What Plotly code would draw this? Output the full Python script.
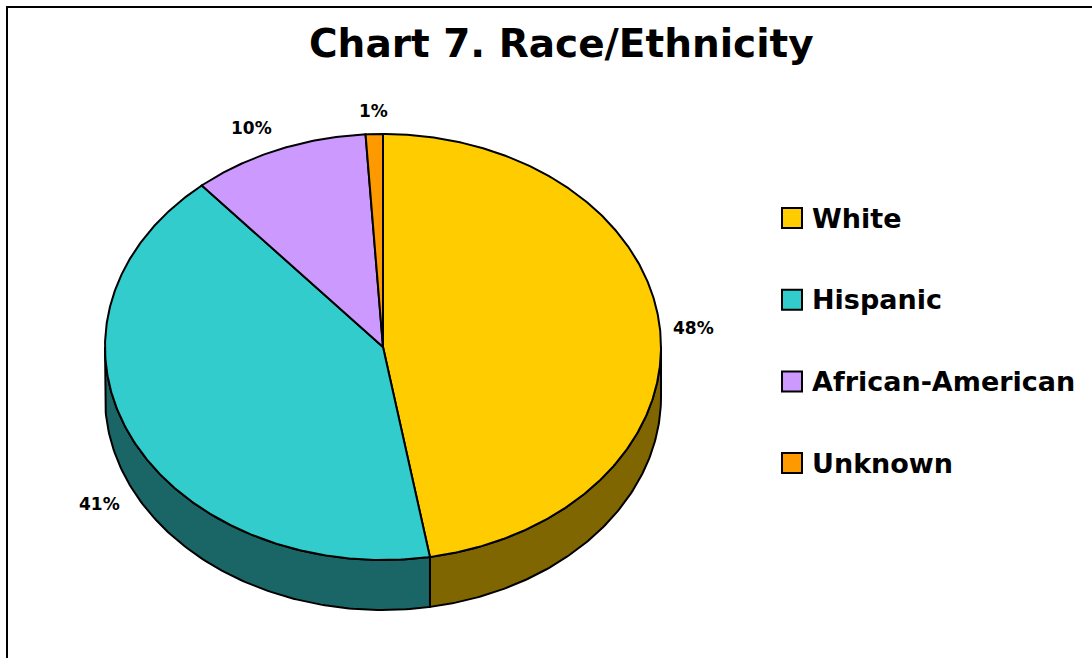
import numpy as np
import plotly.graph_objects as go

# ---- data ----
categories = ["White", "Hispanic", "African-American", "Unknown"]
values = [47.3, 41.4, 10.3, 1.0]
value_labels = ["48%", "41%", "10%", "1%"]
top_colors = ["#FFCC00", "#33CCCC", "#CC99FF", "#FF9900"]
side_colors = ["#806600", "#1A6666", "#664C80", "#804C00"]
title_text = "Chart 7. Race/Ethnicity"

# ---- geometry (pixel space) ----
W, H = 1092, 658
cx, cy = 383, 347
rx, ry = 278, 213
depth = 50
FONT = "DejaVu Sans"
LW = 2.0


def pt(t_deg, dy=0.0):
    t = np.radians(t_deg)
    return cx + rx * np.sin(t), cy - ry * np.cos(t) + dy


fig = go.Figure()

total = sum(values)
bounds = np.concatenate([[0], np.cumsum(values)]) / total * 360.0

# side walls (front half only: angles 90..270)
for i in range(len(values)):
    a1, a2 = max(bounds[i], 90), min(bounds[i + 1], 270)
    if a2 <= a1:
        continue
    ts = np.linspace(a1, a2, 120)
    xt, yt = pt(ts)
    xb, yb = pt(ts[::-1], depth)
    xs = np.concatenate([xt, xb, [xt[0]]])
    ys = np.concatenate([yt, yb, [yt[0]]])
    fig.add_trace(go.Scatter(x=xs, y=ys, mode="lines", fill="toself",
                             fillcolor=side_colors[i],
                             line=dict(color="black", width=LW),
                             hoverinfo="skip", showlegend=False))

# top faces
for i in range(len(values)):
    n = max(int((bounds[i + 1] - bounds[i]) * 2), 8)
    ts = np.linspace(bounds[i], bounds[i + 1], n)
    xt, yt = pt(ts)
    xs = np.concatenate([[cx], xt, [cx]])
    ys = np.concatenate([[cy], yt, [cy]])
    fig.add_trace(go.Scatter(x=xs, y=ys, mode="lines", fill="toself",
                             fillcolor=top_colors[i],
                             line=dict(color="black", width=LW),
                             hoverinfo="skip", showlegend=False,
                             name=categories[i]))

annotations = []
# percentage labels
for i, v in enumerate(values):
    mid = (bounds[i] + bounds[i + 1]) / 2
    s, c = np.sin(np.radians(mid)), np.cos(np.radians(mid))
    ex, ey = pt(mid, depth if c < -0.3 else 0)
    off = 11
    lx, ly = ex + off * s, ey - off * c
    xa = "left" if s > 0.3 else ("right" if s < -0.3 else "center")
    ya = "bottom" if c > 0.3 else ("top" if c < -0.3 else "middle")
    annotations.append(dict(x=lx, y=ly, xref="x", yref="y", text=value_labels[i],
                            showarrow=False, xanchor=xa, yanchor=ya,
                            font=dict(family=FONT, size=17, color="black", weight="bold")))

# title
annotations.append(dict(x=561, y=43, xref="x", yref="y", text=title_text, showarrow=False,
                        xanchor="center", yanchor="middle",
                        font=dict(family=FONT, size=39, color="black", weight="bold")))

# legend (manual)
shapes = []
leg_y0, leg_step = 218, 81.7
for i, name in enumerate(categories):
    yy = leg_y0 + i * leg_step
    shapes.append(dict(type="rect", xref="x", yref="y", x0=782, x1=802,
                       y0=yy - 10, y1=yy + 10, fillcolor=top_colors[i],
                       line=dict(color="black", width=2)))
    annotations.append(dict(x=810, y=yy, xref="x", yref="y", text=name, showarrow=False,
                            xanchor="left", yanchor="middle",
                            font=dict(family=FONT, size=27, color="black", weight="bold")))

# outer border
shapes.append(dict(type="rect", xref="x", yref="y", x0=7, y0=7, x1=W + 20, y1=H + 20,
                   line=dict(color="black", width=2), fillcolor="rgba(0,0,0,0)"))

fig.update_layout(
    width=W, height=H,
    margin=dict(l=0, r=0, t=0, b=0),
    paper_bgcolor="white", plot_bgcolor="white",
    xaxis=dict(range=[0, W], visible=False, fixedrange=True),
    yaxis=dict(range=[H, 0], visible=False, fixedrange=True),
    annotations=annotations, shapes=shapes,
    showlegend=False,
)

fig.write_html("out.html")
